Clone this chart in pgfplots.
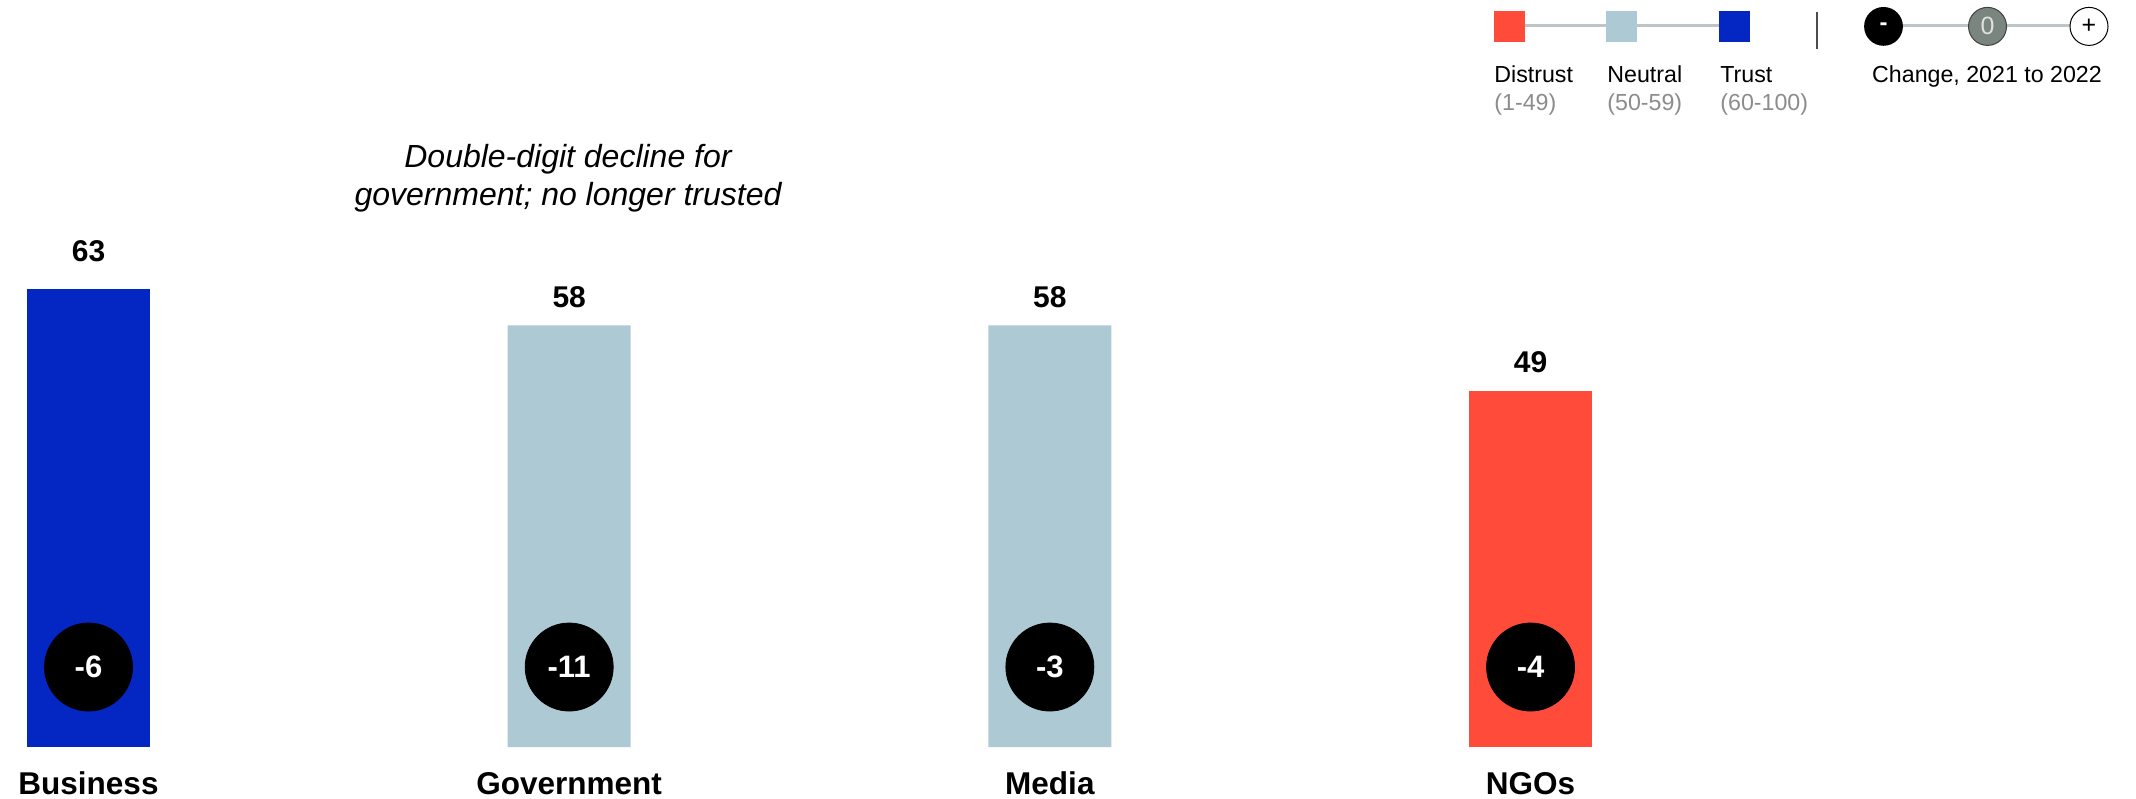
\documentclass[border=0pt]{standalone}
\usepackage{pgfplots}
\pgfplotsset{compat=1.18}
\usepackage{fontspec}
\setmainfont{Liberation Sans}
\definecolor{trustblue}{HTML}{0426C2}
\definecolor{neutralc}{HTML}{ADC9D3}
\definecolor{distrust}{HTML}{FF4B3A}
\definecolor{leggray}{HTML}{7A8580}
\definecolor{legline}{HTML}{BDC6C6}
\definecolor{subgray}{HTML}{8C8C8C}
\begin{document}
\begin{tikzpicture}[x=1pt,y=1pt]
\path[use as bounding box] (0,0) rectangle (1068,399);
\begin{axis}[
  at={(0pt,25.5pt)}, anchor=south west, scale only axis,
  width=1068pt, height=373.5pt,
  xmin=-0.18412, xmax=4.2597, ymin=0, ymax=102.75,
  axis line style={draw=none}, ytick=\empty,
  xtick={0,1,2,3}, xticklabels={Business,Government,Media,NGOs},
  major tick length=0pt,
  x tick label style={anchor=base, yshift=-23.65pt, inner sep=0pt,
    font=\fontsize{15.75}{18}\selectfont\bfseries},
  /pgf/number format/assume math mode=true,
  clip=false,
]
\addplot[ybar, bar width=61.5pt, bar shift=0pt, fill=trustblue, draw=none,
  nodes near coords,
  every node near coord/.append style={anchor=base, yshift=13.65pt, inner sep=0pt,
    text=black, font=\fontsize{15}{18}\selectfont\bfseries}]
  coordinates {(0,63)};
\addplot[ybar, bar width=61.5pt, bar shift=0pt, fill=neutralc, draw=none,
  nodes near coords,
  every node near coord/.append style={anchor=base, yshift=9.15pt, inner sep=0pt,
    text=black, font=\fontsize{15}{18}\selectfont\bfseries}]
  coordinates {(1,58) (2,58)};
\addplot[ybar, bar width=61.5pt, bar shift=0pt, fill=distrust, draw=none,
  nodes near coords,
  every node near coord/.append style={anchor=base, yshift=9.15pt, inner sep=0pt,
    text=black, font=\fontsize{15}{18}\selectfont\bfseries}]
  coordinates {(3,49)};
\addplot[only marks, mark=*, mark size=22pt, mark options={fill=black, draw=black},
  nodes near coords, point meta=explicit symbolic,
  every node near coord/.append style={anchor=center, yshift=0pt, inner sep=0pt,
    text=white, font=\fontsize{15.5}{17}\selectfont\bfseries}]
  coordinates {(0,11) [-6] (1,11) [-11] (2,11) [-3] (3,11) [-4]};
\end{axis}
% annotation
\node[anchor=base, inner sep=0pt, font=\fontsize{16}{18}\selectfont\itshape] at (284,315) {Double-digit decline for};
\node[anchor=base, inner sep=0pt, font=\fontsize{16}{18}\selectfont\itshape] at (284,296) {government; no longer trusted};
% legend: trust scale
\draw[legline, line width=1.2pt] (754.75,386.15) -- (867.25,386.15);
\fill[distrust] (747,378.15) rectangle (762.5,393.5);
\fill[neutralc] (803,378.15) rectangle (818.5,393.5);
\fill[trustblue] (859.5,378.15) rectangle (875,393.5);
\begin{scope}[every node/.style={anchor=base west, inner sep=0pt, font=\fontsize{11.6}{13}\selectfont}]
\node at (747,357.65) {Distrust};
\node at (803.5,357.65) {Neutral};
\node at (860,357.65) {Trust};
\node[text=subgray] at (747,343.5) {(1-49)};
\node[text=subgray] at (803.5,343.5) {(50-59)};
\node[text=subgray] at (860,343.5) {(60-100)};
\end{scope}
\draw[black!70, line width=0.7pt] (908.5,374.5) -- (908.5,393);
% legend: change
\draw[legline, line width=1.2pt] (942,386.15) -- (1044.5,386.15);
\fill[black] (941.75,385.8) circle (9.7);
\node[text=white, inner sep=0pt, font=\fontsize{12}{13}\selectfont\bfseries] at (941.75,385.8) {-};
\filldraw[fill=leggray, draw=black!75, line width=0.5pt] (993.75,385.8) circle (9.5);
\node[text=black!12, inner sep=0pt, font=\fontsize{12.5}{13}\selectfont] at (993.75,385.8) {0};
\filldraw[fill=white, draw=black, line width=0.5pt] (1044.5,385.8) circle (9.5);
\node[text=black, inner sep=0pt, font=\fontsize{12.5}{13}\selectfont] at (1044.5,385.8) {+};
\node[anchor=base, inner sep=0pt, font=\fontsize{11.6}{13}\selectfont] at (993.5,357.65) {Change, 2021 to 2022};
\end{tikzpicture}
\end{document}
